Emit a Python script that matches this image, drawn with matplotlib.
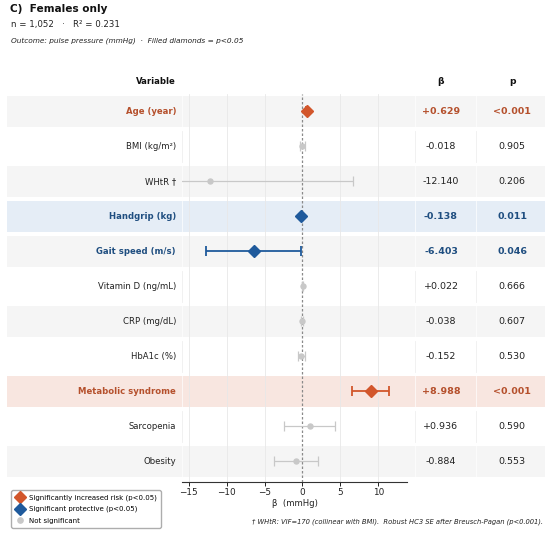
import matplotlib.pyplot as plt
from matplotlib import transforms
from matplotlib.patches import Rectangle
from matplotlib.lines import Line2D

# ---- data ----
variables = ["Age (year)", "BMI (kg/m\u00b2)", "WHtR \u2020", "Handgrip (kg)", "Gait speed (m/s)",
             "Vitamin D (ng/mL)", "CRP (mg/dL)", "HbA1c (%)", "Metabolic syndrome",
             "Sarcopenia", "Obesity"]
beta = [0.629, -0.018, -12.140, -0.138, -6.403, 0.022, -0.038, -0.152, 8.988, 0.936, -0.884]
ci_low = [0.47, -0.31, -30.9, -0.244, -12.68, -0.078, -0.183, -0.63, 6.6, -2.47, -3.81]
ci_high = [0.79, 0.28, 6.7, -0.032, -0.13, 0.122, 0.107, 0.32, 11.4, 4.34, 2.04]
p_labels = ["<0.001", "0.905", "0.206", "0.011", "0.046", "0.666", "0.607", "0.530",
            "<0.001", "0.590", "0.553"]
# up = significant risk, down = significant protective, ns = not significant
status = ["up", "ns", "ns", "down", "down", "ns", "ns", "ns", "up", "ns", "ns"]
# rows with a tinted background
highlight = ["", "", "", "down", "", "", "", "", "up", "", ""]

ORANGE = "#d2562b"
BLUE = "#1f5a9c"
GRAY = "#c8c8c8"
txt_col = {"up": "#b5502c", "down": "#1f4e80", "ns": "#222222"}
row_col = {"up": "#f8e6e0", "down": "#e5edf6"}
STRIPE = "#f5f5f5"

W, H = 550, 533
fig = plt.figure(figsize=(W / 100, H / 100), dpi=100)

# forest panel
ax = fig.add_axes([182 / W, 1 - 481.7 / H, (407 - 182) / W, (481.7 - 94) / H])
ax.set_facecolor("none")
ax.set_xlim(-15.9, 13.8)
ax.set_ylim(10.59, -0.5)
ax.set_yticks([])
for s in ["top", "right", "left"]:
    ax.spines[s].set_visible(False)
ax.spines["bottom"].set_color("#333333")
ax.spines["bottom"].set_linewidth(0.8)
ax.set_xticks([-15, -10, -5, 0, 5, 10])
ax.set_xticklabels(["\u221215", "\u221210", "\u22125", "0", "5", "10"])
ax.tick_params(axis="x", labelsize=6.4, length=3, width=0.7, pad=1.5, colors="#222222")
ax.set_xlabel("\u03b2  (mmHg)", fontsize=6.1, labelpad=1.5, color="#222222")
ax.set_axisbelow(True)
for g in [-15, -10, -5, 5, 10]:
    ax.axvline(g, color="#e8e8e8", lw=0.6, zorder=0.5)
ax.axvline(0, color="#8a8a8a", lw=0.9, ls=(0, (2, 1.6)), zorder=1)

rows_tr = transforms.blended_transform_factory(fig.transFigure, ax.transData)

# row backgrounds
for i in range(len(variables)):
    if highlight[i]:
        col = row_col[highlight[i]]
    elif i % 2 == 0:
        col = STRIPE
    else:
        col = None
    if col:
        ax.add_patch(Rectangle((7 / W, i - 0.445), (545 - 7) / W, 0.89, transform=rows_tr,
                               facecolor=col, edgecolor="none", zorder=0.1, clip_on=False))
    # faint cell separators
    for xs in [182, 415, 476]:
        ax.add_line(Line2D([xs / W, xs / W], [i - 0.445, i + 0.445], transform=rows_tr,
                           color="#ebebeb" if col is None else "white", lw=0.6, alpha=0.8,
                           zorder=0.2, clip_on=False))

# markers and CIs
for i in range(len(variables)):
    st = status[i]
    err = [[beta[i] - ci_low[i]], [ci_high[i] - beta[i]]]
    if st == "ns":
        ax.errorbar(beta[i], i, xerr=err, fmt="o", color=GRAY, ms=3.6, elinewidth=0.9,
                    capsize=3.5, capthick=0.9, zorder=3)
    else:
        c = ORANGE if st == "up" else BLUE
        ax.errorbar(beta[i], i, xerr=err, fmt="D", color=c, ms=6, elinewidth=1.3,
                    capsize=3.6, capthick=1.3, zorder=4)

# table text
X_LABEL = 176 / W
X_BETA = 441 / W
X_P = 512 / W
for i, name in enumerate(variables):
    st = status[i]
    fw = "normal" if st == "ns" else "bold"
    c = txt_col[st]
    ax.text(X_LABEL, i, name, transform=rows_tr, ha="right", va="center",
            fontsize=6.1, fontweight=fw, color=c, clip_on=False)
    ax.text(X_BETA, i, f"{beta[i]:+.3f}", transform=rows_tr, ha="center", va="center",
            fontsize=6.8, fontweight=fw, color=c, clip_on=False)
    ax.text(X_P, i, p_labels[i], transform=rows_tr, ha="center", va="center",
            fontsize=6.8, fontweight=fw, color=c, clip_on=False)

hy = -0.87
ax.text(X_LABEL, hy, "Variable", transform=rows_tr, ha="right", va="center",
        fontsize=6.1, fontweight="bold", color="#111111", clip_on=False)
ax.text(X_BETA, hy, "\u03b2", transform=rows_tr, ha="center", va="center",
        fontsize=6.6, fontweight="bold", color="#111111", clip_on=False)
ax.text(X_P, hy, "p", transform=rows_tr, ha="center", va="center",
        fontsize=6.6, fontweight="bold", color="#111111", clip_on=False)

# titles
fig.text(10 / W, 1 - 9.5 / H, "C)  Females only", fontsize=7.6, fontweight="bold",
         va="center", ha="left", color="#111111")
fig.text(11 / W, 1 - 24.5 / H, "n = 1,052   \u00b7   R\u00b2 = 0.231", fontsize=6.2,
         va="center", ha="left", color="#222222")
fig.text(11 / W, 1 - 41 / H, "Outcome: pulse pressure (mmHg)  \u00b7  Filled diamonds = p<0.05",
         fontsize=5.35, style="italic", va="center", ha="left", color="#222222")

# legend
handles = [
    Line2D([], [], marker="D", color=ORANGE, ls="none", ms=6),
    Line2D([], [], marker="D", color=BLUE, ls="none", ms=6),
    Line2D([], [], marker="o", color=GRAY, ls="none", ms=3.8),
]
fig.legend(handles, ["Significantly increased risk (p<0.05)", "Significant protective (p<0.05)",
                     "Not significant"],
           loc="lower left", bbox_to_anchor=(8 / W, 2 / H), fontsize=5.0, frameon=True,
           handletextpad=0.7, labelspacing=0.75, borderpad=0.55, handlelength=1.3,
           edgecolor="#999999", fancybox=True)

fig.text(543 / W, 1 - 522 / H,
         "\u2020 WHtR: VIF=170 (collinear with BMI).  Robust HC3 SE after Breusch-Pagan (p<0.001).",
         fontsize=4.85, style="italic", ha="right", va="center", color="#222222")

fig.savefig("out.png", dpi=100)
